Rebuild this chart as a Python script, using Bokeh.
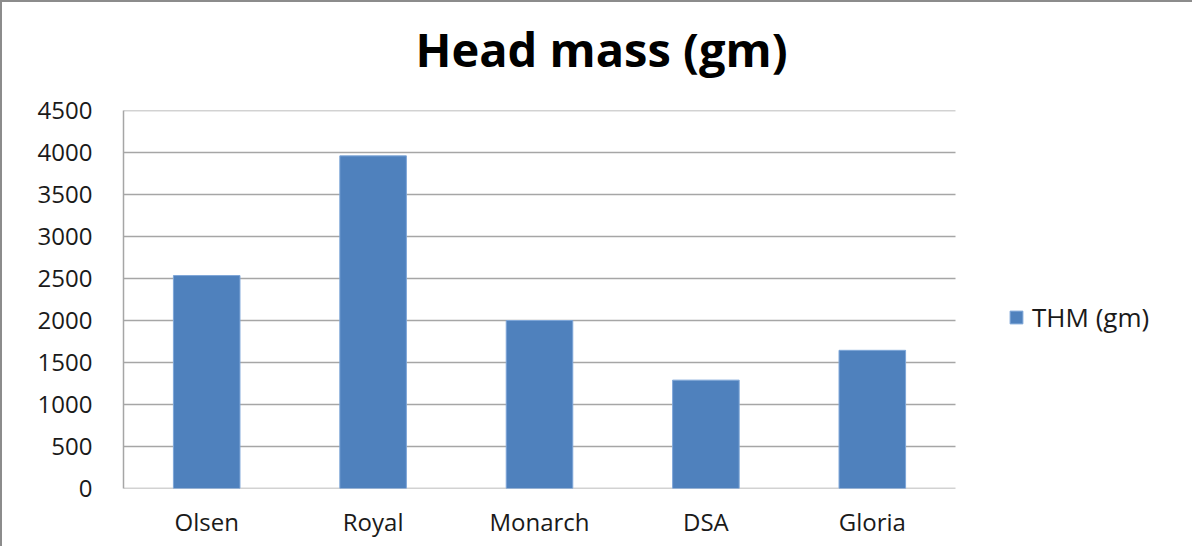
from bokeh.plotting import figure
from bokeh.models import ColumnDataSource, Legend, LegendItem, Range1d, FixedTicker, Title
from bokeh.embed import file_html
from bokeh.resources import INLINE

# ---- data ----
varieties = ["Olsen", "Royal", "Monarch", "DSA", "Gloria"]
thm = [2535, 3960, 2000, 1290, 1645]
y_ticks = [0, 500, 1000, 1500, 2000, 2500, 3000, 3500, 4000, 4500]
series_name = "THM (gm)"
title_text = "Head mass (gm)"

FONT = "Open Sans"
GRID = "#a6a6a6"
BAR = "#4F81BD"

# layout (pixels)
W, H = 1192, 546
LEFT, TOP, BOTTOM = 121, 108, 60
PLOT_W = 832            # width of the category area; the rest holds the legend
n = len(varieties)
x_pos = [i + 0.5 for i in range(n)]          # category centres
x_end = n * (W - LEFT) / PLOT_W

src = ColumnDataSource(dict(x=x_pos, variety=varieties, thm=thm))

p = figure(
    title=None,
    x_range=Range1d(0, x_end),
    y_range=Range1d(0, max(y_ticks)),
    width=W, height=H,
    output_backend="svg", toolbar_location=None,
    min_border_left=LEFT, min_border_right=0,
    min_border_top=TOP, min_border_bottom=BOTTOM,
)
p.styles = {"border-left": "2px solid #8c8c8c", "border-top": "2px solid #8c8c8c"}

# horizontal grid lines only across the category area
p.segment(x0=0, x1=n, y0=y_ticks, y1=y_ticks, line_color=GRID, line_width=1.5)

r = p.vbar(x="x", top="thm", width=0.4, source=src,
           fill_color=BAR, line_color="#7ea6d8", line_width=1)

# spacer between frame and title (added first -> closest to the frame)
p.add_layout(Title(text=" ", text_font_size="10px", standoff=16), "above")
p.add_layout(Title(text=title_text, align="left", offset=292, standoff=2,
                   text_font=FONT, text_font_size="47px", text_font_style="bold",
                   text_color="#000000"), "above")

p.outline_line_color = None
p.background_fill_color = "white"
p.border_fill_color = "white"
p.xgrid.grid_line_color = None
p.ygrid.grid_line_color = None

p.yaxis.ticker = FixedTicker(ticks=y_ticks)
p.xaxis.ticker = FixedTicker(ticks=x_pos)
p.xaxis.major_label_overrides = {x: v for x, v in zip(x_pos, varieties)}

for ax in (p.xaxis[0], p.yaxis[0]):
    ax.axis_line_color = GRID
    ax.axis_line_width = 1.5
    ax.major_tick_line_color = None
    ax.minor_tick_line_color = None
    ax.major_label_text_font = FONT
    ax.major_label_text_font_size = "24px"
    ax.major_label_text_color = "#1a1a1a"
p.xaxis.axis_line_color = None

p.yaxis.major_label_standoff = 25
p.xaxis.major_label_standoff = 10

legend = Legend(items=[LegendItem(label=series_name, renderers=[r])],
                location=(PLOT_W + 53, 153), margin=0, padding=10,
                glyph_width=16, glyph_height=16, label_standoff=8,
                label_text_font=FONT, label_text_font_size="26px",
                label_text_color="#1a1a1a",
                border_line_color=None, background_fill_alpha=0)
p.add_layout(legend, "center")

open("out.html", "w").write(file_html(p, INLINE))
